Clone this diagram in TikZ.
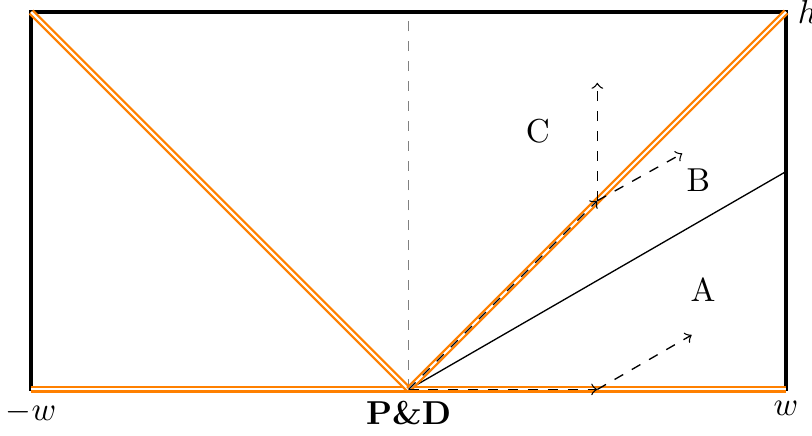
\documentclass[tikz,border=0pt]{standalone}
\usetikzlibrary{positioning}
\begin{document}
\begin{tikzpicture}[
  wall/.style={draw=orange, double=white, line width=0.7pt, double distance=0.6pt},
  ray/.style={->, dashed},
]
\useasboundingbox (-4.33,-0.487) rectangle (4.275,4.127);
  % box corners
  \coordinate (pd) at (0,0);
  \coordinate (bl) at (-4,0);
  \coordinate (br) at (4,0);
  \coordinate (tl) at (-4,4);
  \coordinate (tr) at (4,4);
  \coordinate (tm) at (0,4);
  \coordinate (ra) at (4,{4*tan(30)});
\draw[line width=1pt] (bl) rectangle (tr);
\draw[gray, dashed] (pd) -- (tm);
\draw (pd) -- (ra);

  % walls
\draw[wall] (bl) -- (br);
\draw[wall] (pd) -- (tl);
\draw[wall] (pd) -- (tr);

  % rays
  \coordinate (p1) at (2,0);
  \coordinate (p2) at (2,2);
  \coordinate (q1) at (3,0.577);
  \coordinate (q2) at (2.9,2.5);
  \coordinate (q3) at (2,3.25);
\draw[ray] (pd) -- (p1);
\draw[ray] (p1) -- (q1);
\draw[ray] (pd) -- (p2);
\draw[ray] (p2) -- (q2);
\draw[ray] (p2) -- (q3);

  % labels
\node (la) at (3.12,1.06) {A};
\node (lb) at (3.07,2.22) {B};
\node (lc) at (1.37,2.74) {C};
\node[below] (lw) at (bl) {$-w$};
\node[below] (lpd) at (pd) {\textbf{P\&D}};
\node[below] (rw) at (br) {$w$};
\node[right] (lh) at (tr) {$h$};
\end{tikzpicture}
\end{document}
